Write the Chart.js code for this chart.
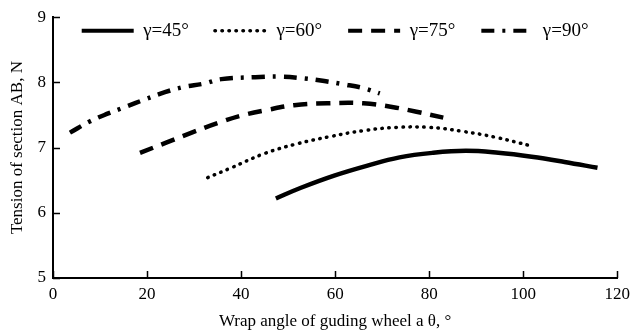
<!DOCTYPE html>
<html>
<head>
<meta charset="utf-8">
<script src="https://cdn.jsdelivr.net/npm/chart.js@4"></script>
<style>
  html, body { margin: 0; padding: 0; background: #fff; }
  #wrap { width: 636px; height: 336px; }
</style>
</head>
<body>
<div id="wrap"><canvas id="tensionChart" width="636" height="336"></canvas></div>
<script>
// Series: wrap angle (deg) and tension (N)
const angle45 = [47.4, 52.6, 59.8, 66.7, 73.7, 80.8, 87.8, 94.7, 101.8, 108.8, 115.8];
const tension45 = [6.22, 6.38, 6.57, 6.72, 6.85, 6.92, 6.95, 6.92, 6.86, 6.78, 6.69];

const angle60 = [32.9, 37.9, 45, 52, 59, 66, 73, 80, 87, 94, 101.5];
const tension60 = [6.54, 6.69, 6.91, 7.06, 7.17, 7.26, 7.31, 7.31, 7.25, 7.16, 7.03];

const angle75 = [18.5, 24.2, 29.5, 35.2, 40, 45.7, 51.3, 58.3, 66, 72.4, 77.3, 83];
const tension75 = [6.92, 7.08, 7.23, 7.38, 7.49, 7.58, 7.65, 7.68, 7.68, 7.62, 7.55, 7.46];

const angle90 = [3.6, 7.8, 11.6, 15.6, 19.6, 23.8, 27.8, 32, 35.8, 43, 48.4, 53.5, 57.7, 61.9, 66.1, 69.5];
const tension90 = [7.23, 7.4, 7.52, 7.63, 7.74, 7.85, 7.93, 7.98, 8.05, 8.08, 8.09, 8.06, 8.02, 7.97, 7.91, 7.83];

const seriesLabels = ['γ=45°', 'γ=60°', 'γ=75°', 'γ=90°'];
const xTicks = [0, 20, 40, 60, 80, 100, 120];
const yTicks = [5, 6, 7, 8, 9];

const FONT = "'Liberation Serif', 'Times New Roman', serif";

const toPoints = (xs, ys) => xs.map((x, i) => ({ x: x, y: ys[i] }));

// Small tick marks pointing into the plot, like the original figure
const insideTicks = {
    id: 'insideTicks',
    afterDraw(chart) {
        const { ctx, chartArea, scales } = chart;
        ctx.save();
        ctx.strokeStyle = '#000';
        ctx.lineWidth = 1.5;
        ctx.beginPath();
        xTicks.forEach(v => {
            const px = Math.round(scales.x.getPixelForValue(v)) + 0.5;
            ctx.moveTo(px, chartArea.bottom);
            ctx.lineTo(px, chartArea.bottom - 7);
        });
        yTicks.forEach(v => {
            const py = Math.round(scales.y.getPixelForValue(v)) + 0.5;
            ctx.moveTo(chartArea.left, py);
            ctx.lineTo(chartArea.left + 7, py);
        });
        ctx.stroke();
        ctx.restore();
    }
};

// Legend sits inside the axes in one centred row, near the top edge
const legendInside = {
    id: 'legendInside',
    beforeUpdate(chart) {
        if (chart.legend) {
            chart.legend.isHorizontal = () => true;
        }
    },
    afterLayout(chart) {
        const lg = chart.legend;
        if (lg) {
            lg.left = chart.chartArea.left;
            lg.right = chart.chartArea.right;
            lg.top = chart.chartArea.top - 22;
        }
    }
};

const common = {
    fill: false,
    pointRadius: 0,
    tension: 0.4,
    borderColor: '#000',
    backgroundColor: '#000'
};

new Chart(document.getElementById('tensionChart'), {
    type: 'line',
    data: {
        datasets: [{
            ...common,
            label: seriesLabels[0],
            data: toPoints(angle45, tension45),
            borderWidth: 4.5
        }, {
            ...common,
            label: seriesLabels[1],
            data: toPoints(angle60, tension60),
            borderWidth: 3.5,
            borderDash: [0.5, 6.5],
            borderCapStyle: 'round'
        }, {
            ...common,
            label: seriesLabels[2],
            data: toPoints(angle75, tension75),
            borderWidth: 4.5,
            borderDash: [14, 9]
        }, {
            ...common,
            label: seriesLabels[3],
            data: toPoints(angle90, tension90),
            borderWidth: 4.5,
            borderDash: [13, 8, 3, 8]
        }]
    },
    options: {
        responsive: false,
        animation: false,
        layout: { padding: { top: 17, right: 13, left: 0, bottom: 0 } },
        plugins: {
            legend: {
                position: 'chartArea',
                align: 'center',
                labels: {
                    usePointStyle: true,
                    pointStyleWidth: 52,
                    padding: 26,
                    color: '#000',
                    font: { family: FONT, size: 19 },
                    // line samples carry each dataset's own dash pattern
                    generateLabels: chart => chart.data.datasets.map((ds, i) => ({
                        text: ds.label,
                        datasetIndex: i,
                        hidden: false,
                        pointStyle: 'line',
                        strokeStyle: ds.borderColor,
                        fillStyle: ds.borderColor,
                        fontColor: '#000',
                        lineWidth: i === 1 ? 3.5 : 4,
                        lineDash: ds.borderDash || [],
                        lineCap: ds.borderCapStyle || 'butt'
                    }))
                }
            },
            tooltip: { enabled: false }
        },
        scales: {
            x: {
                type: 'linear',
                min: 0,
                max: 120,
                afterBuildTicks: s => { s.ticks = xTicks.map(v => ({ value: v })); },
                afterFit: s => { s.height = 58; },
                grid: { display: false, drawTicks: false },
                border: { display: true, color: '#000', width: 2 },
                ticks: { color: '#000', padding: 6, font: { family: FONT, size: 17 } },
                title: {
                    display: true,
                    text: 'Wrap angle of guding wheel a θ, °',
                    color: '#000',
                    font: { family: FONT, size: 17 },
                    padding: { top: 0, bottom: 4 }
                }
            },
            y: {
                type: 'linear',
                min: 5,
                max: 9,
                afterBuildTicks: s => { s.ticks = yTicks.map(v => ({ value: v })); },
                afterFit: s => { s.width = 53; },
                grid: { display: false, drawTicks: false },
                border: { display: true, color: '#000', width: 2 },
                ticks: { color: '#000', padding: 7, font: { family: FONT, size: 17 } },
                title: {
                    display: true,
                    text: 'Tension of section AB, N',
                    color: '#000',
                    font: { family: FONT, size: 17 },
                    padding: { top: 7, bottom: 0 }
                }
            }
        }
    },
    plugins: [insideTicks, legendInside]
});
</script>
</body>
</html>
